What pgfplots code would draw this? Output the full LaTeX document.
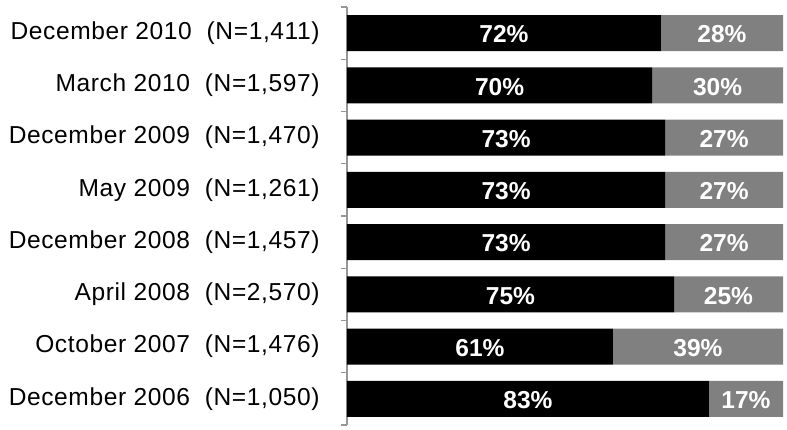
\documentclass[border=0pt]{standalone}
\usepackage{pgfplots}
\pgfplotsset{compat=1.18}
\usepackage{pgfplotstable}
\usepackage{fontspec}
\setmainfont{Liberation Sans}
\newfontfamily\labelfont[LetterSpace=2.5]{Liberation Sans}
\definecolor{barblack}{RGB}{0,0,0}
\definecolor{bargray}{RGB}{128,128,128}
\definecolor{axisgray}{RGB}{150,150,150}
\pgfplotstableread{
y yes no
0 83 17
1 61 39
2 75 25
3 73 27
4 73 27
5 73 27
6 70 30
7 72 28
}\datatable
\pgfplotsset{
  common/.style={
    scale only axis,
    width=327pt, height=313.5pt,
    xmin=0, xmax=100,
    ymin=-0.5, ymax=7.5,
  }
}
\begin{document}
\begin{tikzpicture}
\begin{axis}[
  name=ax,
  common,
  xbar stacked,
  bar width=27pt,
  axis x line=none,
  axis y line*=left,
  y axis line style={axisgray, line width=0.8pt},
  ytick={0,...,7},
  yticklabels={December 2006~ (N=1{,}050), October 2007~ (N=1{,}476), April 2008~ (N=2{,}570), December 2008~ (N=1{,}457), May 2009~ (N=1{,}261), December 2009~ (N=1{,}470), March 2010~ (N=1{,}597), December 2010~ (N=1{,}411)},
  major tick length=0pt,
  minor ytick={-0.5,0.5,...,7.5},
  minor tick length=4.5pt,
  tick align=outside,
  minor tick style={axisgray, line width=0.8pt},
  yticklabel style={font=\labelfont\fontsize{18.4}{22}\selectfont, xshift=-17pt},
  clip=false,
]
\addplot[fill=barblack, draw=none] table[x=yes, y=y] {\datatable};
\addplot[fill=bargray, draw=none] table[x=no, y=y] {\datatable};
\end{axis}
\begin{axis}[
  common,
  hide axis,
  clip=false,
  point meta=explicit,
  nodes near coords={\pgfmathprintnumber[assume math mode=true]{\pgfplotspointmeta}\%},
  nodes near coords align=center,
  every node near coord/.append style={font=\bfseries\fontsize{18.4}{22}\selectfont, text=white, anchor=center, yshift=-1pt},
]
\addplot[only marks, mark=none] table[x expr=\thisrow{yes}/2, y=y, meta=yes] {\datatable};
\addplot[only marks, mark=none] table[x expr=\thisrow{yes}+\thisrow{no}/2, y=y, meta=no] {\datatable};
\end{axis}
\pgfresetboundingbox
\path[use as bounding box] ([xshift=-260.25pt,yshift=-3.75pt]ax.south west) rectangle ([xshift=3pt,yshift=5.25pt]ax.north east);
\end{tikzpicture}
\end{document}
